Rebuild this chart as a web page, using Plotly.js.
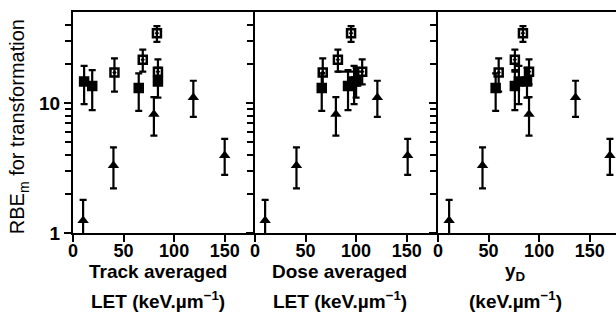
<!DOCTYPE html>
<html>
<head>
<meta charset="utf-8">
<script src="https://cdn.plot.ly/plotly-3.0.1.min.js"></script>
<style>html,body{margin:0;padding:0;background:#fff;}#chart{width:616px;height:324px;}</style>
</head>
<body>
<div id="chart"></div>
<script>
// ---- data ----
// squares (RBE for transformation)
const rbeSq       = [34.4, 21.5, 17.1, 13.0, 14.6, 13.5, 17.4, 14.6];
const sqErrPlus   = [4.6, 4.2, 4.9, 3.9, 4.7, 4.4, 4.2, 4.0];
const sqErrMinus  = [4.9, 4.1, 4.9, 4.3, 4.8, 4.7, 3.5, 3.6];
const sqOpen      = [true, true, true, false, false, false, true, false];
const sqTrackLET  = [83, 69, 41, 65, 11, 19, 84, 84];
const sqDoseLET   = [95, 82, 67, 66, 98, 92, 106, 100];
const sqDoseXErrMinus = [0, 0, 0, 0, 0, 0, 26, 0];
const sqYD        = [84, 76, 60, 57, 80, 76, 90, 88];
// triangles
const rbeTri      = [1.25, 3.3, 8.2, 11.0, 3.95];
const triErrPlus  = [0.55, 1.25, 2.9, 3.8, 1.35];
const triErrMinus = [0.48, 1.1, 2.6, 3.2, 1.15];
const triTrackLET = [10, 40, 80, 119, 150];
const triDoseLET  = [10, 41, 80, 121, 151];
const triYD       = [11, 44, 90, 136, 170];
// axis ticks
const xTickVals = [0, 50, 100, 150];
const yTickVals = [1, 10];
const yTickText = ['1', '10'];
const yMinorTickVals = [2, 3, 4, 5, 6, 7, 8, 9, 20, 30, 40];
const panelTitles = [
  ['Track averaged', 'LET (keV.\u00b5m<sup>\u22121</sup>)'],
  ['Dose averaged', 'LET (keV.\u00b5m<sup>\u22121</sup>)'],
  ['y<sub>D</sub>', '(keV.\u00b5m<sup>\u22121</sup>)']
];
const yTitle = 'RBE<sub>m</sub> for transformation';

// ---- styling ----
const FONT = 'Liberation Sans, Arial, sans-serif';
const errY = (plus, minus) => ({type: 'data', symmetric: false, array: plus, arrayminus: minus,
  color: '#000', thickness: 2.2, width: 3.5});
const sqSymbols = sqOpen.map(o => o ? 'square-open-dot' : 'square');

const panels = [
  {sx: sqTrackLET, tx: triTrackLET, xa: 'x',  ya: 'y'},
  {sx: sqDoseLET,  tx: triDoseLET,  xa: 'x2', ya: 'y2', xErr: sqDoseXErrMinus},
  {sx: sqYD,       tx: triYD,       xa: 'x3', ya: 'y3'}
];

const traces = [];
panels.forEach(p => {
  const sq = {
    type: 'scatter', mode: 'markers', x: p.sx, y: rbeSq, xaxis: p.xa, yaxis: p.ya,
    cliponaxis: false,
    marker: {symbol: sqSymbols, size: 8, color: '#000', line: {color: '#000', width: 2.5}},
    error_y: errY(sqErrPlus, sqErrMinus), showlegend: false, hoverinfo: 'skip'
  };
  if (p.xErr) {
    sq.error_x = {type: 'data', symmetric: false, array: p.xErr.map(() => 0), arrayminus: p.xErr,
      color: '#000', thickness: 2.2, width: 0};
  }
  traces.push(sq);
  traces.push({
    type: 'scatter', mode: 'markers', x: p.tx, y: rbeTri, xaxis: p.xa, yaxis: p.ya,
    cliponaxis: false,
    marker: {symbol: 'triangle-up', size: 10, color: '#000'},
    error_y: errY(triErrPlus, triErrMinus), showlegend: false, hoverinfo: 'skip'
  });
});

const xBase = {
  tickvals: xTickVals, ticks: 'outside', ticklen: 7, tickwidth: 2, tickcolor: '#000',
  showline: true, linewidth: 2, linecolor: '#000', mirror: true,
  showgrid: false, zeroline: false, ticklabelstandoff: -7,
  tickfont: {family: FONT, size: 18, color: '#000', weight: 'bold'}
};
const yBase = {
  type: 'log', range: [0, Math.log10(50)], tickvals: yTickVals, ticktext: yTickText,
  ticks: 'outside', ticklen: 7, tickwidth: 2, tickcolor: '#000',
  minor: {tickvals: yMinorTickVals, ticks: 'outside', ticklen: 6, tickwidth: 2, tickcolor: '#000', showgrid: false},
  showline: true, linewidth: 2, linecolor: '#000',
  showgrid: false, zeroline: false,
  tickfont: {family: FONT, size: 19, color: '#000', weight: 'bold'}
};

const doms = [[0, 0.3352], [0.3352, 0.6722], [0.6722, 1]];
const ranges = [[0, 180], [0, 181], [0, 176]];
const titleCenters = [0.467, 0.464, 0.433];

const annotations = [];
panelTitles.forEach((lines, i) => {
  const xref = (i === 0 ? 'x' : 'x' + (i + 1)) + ' domain';
  annotations.push({xref: xref, yref: 'paper', x: titleCenters[i], y: -0.176, xanchor: 'center', yanchor: 'middle',
    text: lines[0], showarrow: false, font: {family: FONT, size: 19, color: '#000', weight: 'bold'}});
  annotations.push({xref: xref, yref: 'paper', x: titleCenters[i], y: -0.304, xanchor: 'center', yanchor: 'middle',
    text: lines[1], showarrow: false, font: {family: FONT, size: 19, color: '#000', weight: 'bold'}});
});
annotations.push({xref: 'paper', yref: 'paper', x: -0.099, y: 0.48, xanchor: 'center', yanchor: 'middle',
  textangle: -90, text: yTitle, showarrow: false, font: {family: FONT, size: 20, color: '#000'}});

const layout = {
  width: 616, height: 324,
  margin: {l: 73, r: 0, t: 12, b: 91},
  paper_bgcolor: '#fff', plot_bgcolor: '#fff',
  showlegend: false,
  xaxis:  Object.assign({}, xBase, {domain: doms[0], range: ranges[0], anchor: 'y'}),
  xaxis2: Object.assign({}, xBase, {domain: doms[1], range: ranges[1], anchor: 'y2'}),
  xaxis3: Object.assign({}, xBase, {domain: doms[2], range: ranges[2], anchor: 'y3'}),
  yaxis:  Object.assign({}, yBase, {anchor: 'x'}),
  yaxis2: Object.assign({}, yBase, {anchor: 'x2', showticklabels: false}),
  yaxis3: Object.assign({}, yBase, {anchor: 'x3', showticklabels: false}),
  annotations: annotations
};

Plotly.newPlot('chart', traces, layout, {staticPlot: true, displayModeBar: false});
</script>
</body>
</html>
